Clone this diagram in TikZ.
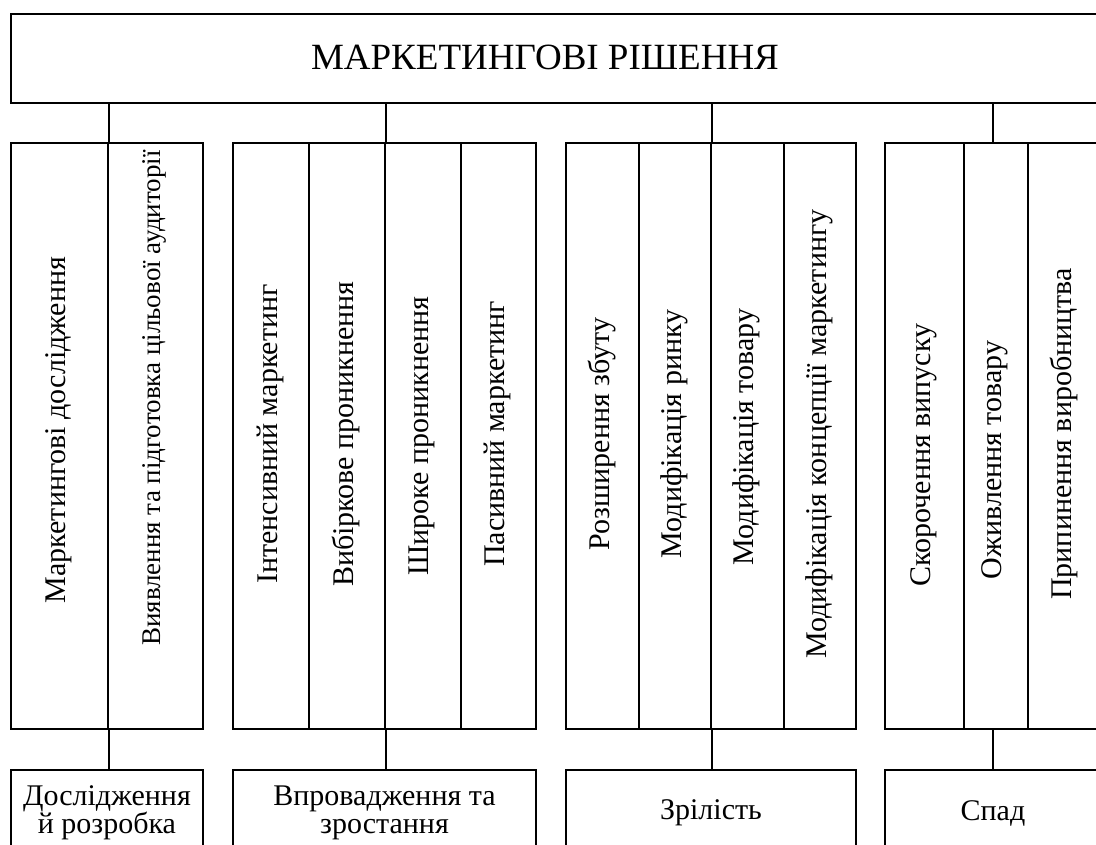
\documentclass[tikz,border=0pt]{standalone}
\usepackage{fontspec}
\setmainfont{Liberation Serif}
\begin{document}
\begin{tikzpicture}[x=1pt,y=-1pt,
  box/.style={draw, line width=2pt, inner sep=0pt, anchor=north west},
  cell/.style={box, minimum height=586pt},
  vtext/.style={rotate=90, inner sep=0pt, font=\fontsize{30}{34}\selectfont},
  btext/.style={box, align=center, minimum height=86pt, font=\fontsize{30}{28}\selectfont},
  link/.style={line width=2pt}]
\useasboundingbox (0,0) rectangle (1096,845);
\clip (0,0) rectangle (1096,845);
% top box
\node[box, minimum width=1090pt, minimum height=89pt] (top) at (10,13) {};
\node[font=\fontsize{37}{40}\selectfont, inner sep=0pt] (title) at (545,57.5) {МАРКЕТИНГОВІ РІШЕННЯ};
% group 1
\node[cell, minimum width=97pt] (c11) at (10,142) {};
\node[cell, minimum width=95pt] (c12) at (107,142) {};
% group 2
\node[cell, minimum width=76pt] (c21) at (232,142) {};
\node[cell, minimum width=76pt] (c22) at (308,142) {};
\node[cell, minimum width=76pt] (c23) at (384,142) {};
\node[cell, minimum width=75pt] (c24) at (460,142) {};
% group 3
\node[cell, minimum width=73pt] (c31) at (565,142) {};
\node[cell, minimum width=72pt] (c32) at (638,142) {};
\node[cell, minimum width=73pt] (c33) at (710,142) {};
\node[cell, minimum width=72pt] (c34) at (783,142) {};
% group 4
\node[cell, minimum width=79pt] (c41) at (884,142) {};
\node[cell, minimum width=64pt] (c42) at (963,142) {};
\node[cell, minimum width=73pt] (c43) at (1027,142) {};
% vertical texts
\node[vtext] (t11) at (58.5,430) {Маркетингові дослідження};
\node[vtext, font=\fontsize{27}{31}\selectfont] (t12) at (154.5,398) {Виявлення та підготовка цільової аудиторії};
\node[vtext] (t21) at (270,434) {Інтенсивний маркетинг};
\node[vtext] (t22) at (346,434) {Вибіркове проникнення};
\node[vtext] (t23) at (422,436) {Широке проникнення};
\node[vtext] (t24) at (497.5,434) {Пасивний маркетинг};
\node[vtext] (t31) at (601.5,434) {Розширення збуту};
\node[vtext] (t32) at (674,434) {Модифікація ринку};
\node[vtext] (t33) at (746.5,437) {Модифікація товару};
\node[vtext] (t34) at (819,434) {Модифікація концепції маркетингу};
\node[vtext] (t41) at (923.5,455) {Скорочення випуску};
\node[vtext] (t42) at (995,460) {Оживлення товару};
\node[vtext] (t43) at (1063.5,434) {Припинення виробництва};
% bottom boxes
\node[btext, minimum width=192pt] (b1) at (10,769) {Дослідження\\й розробка};
\node[btext, minimum width=303pt] (b2) at (232,769) {Впровадження та\\зростання};
\node[btext, minimum width=290pt] (b3) at (565,769) {Зрілість};
\node[btext, minimum width=216pt] (b4) at (884,769) {Спад};
% connectors
\draw[link] (c11.north east) -- (c11.north east |- top.south);
\draw[link] (c11.south east) -- (c11.south east |- b1.north);
\draw[link] (c22.north east) -- (c22.north east |- top.south);
\draw[link] (c22.south east) -- (c22.south east |- b2.north);
\draw[link] (c32.north east) -- (c32.north east |- top.south);
\draw[link] (c32.south east) -- (c32.south east |- b3.north);
\draw[link] (b4.north |- c42.north) -- (b4.north |- top.south);
\draw[link] (b4.north |- c42.south) -- (b4.north);
\end{tikzpicture}
\end{document}
